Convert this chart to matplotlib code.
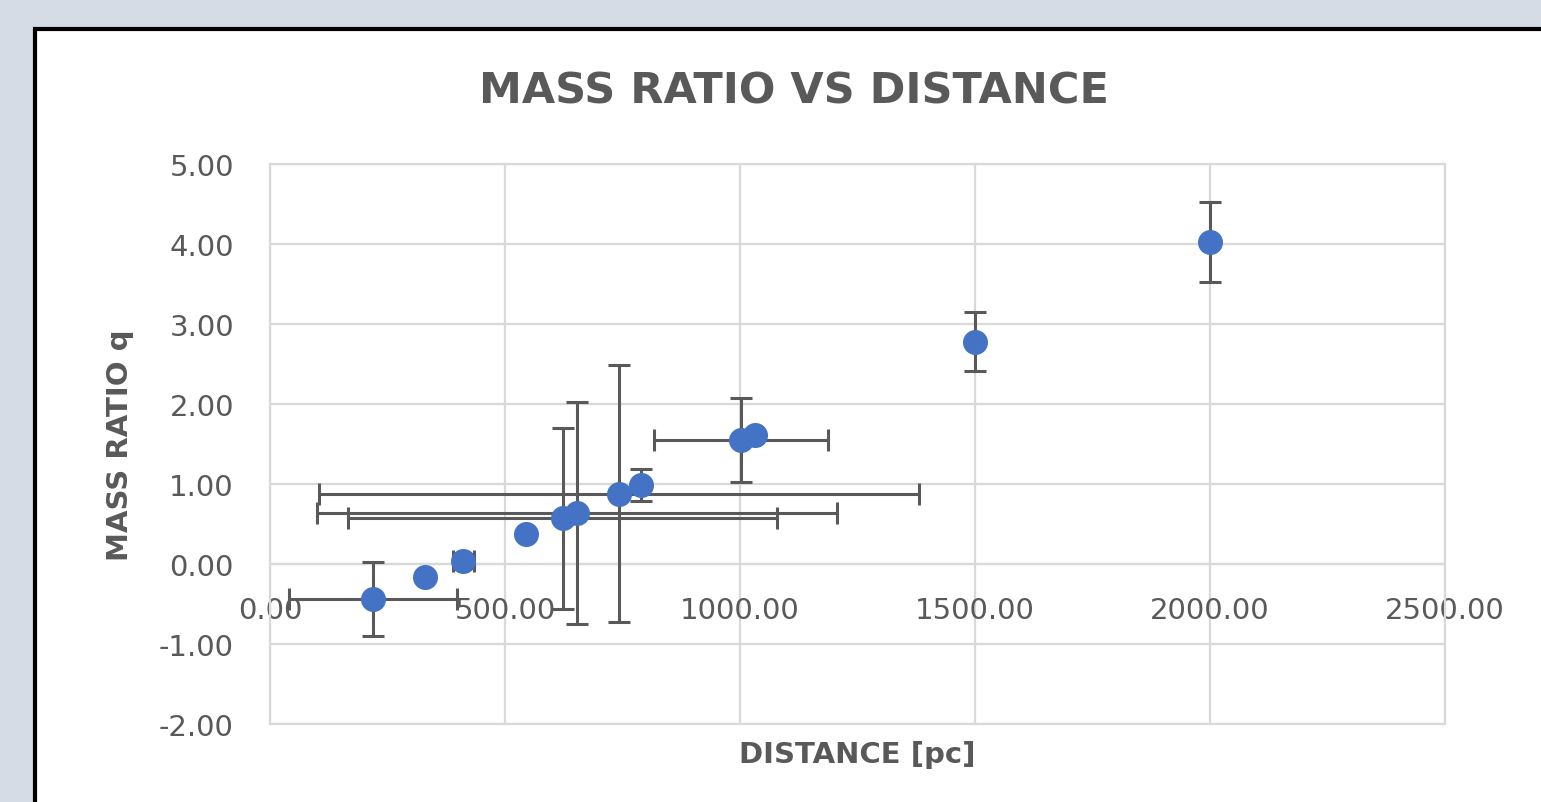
import matplotlib.pyplot as plt
from matplotlib.patches import Rectangle

# values
distance = [219, 330, 411, 545, 623, 653, 743, 789, 1002, 1032, 1500, 2000]
mass_ratio = [-0.44, -0.16, 0.04, 0.37, 0.57, 0.64, 0.88, 0.99, 1.55, 1.61, 2.78, 4.03]
mass_ratio_err = [0.46, 0.0, 0.09, 0.0, 1.13, 1.39, 1.61, 0.20, 0.53, 0.0, 0.37, 0.50]
distance_err = [178, 0, 22, 0, 456, 553, 638, 0, 186, 0, 0, 0]

x_ticks = [0, 500, 1000, 1500, 2000, 2500]
y_ticks = [-2, -1, 0, 1, 2, 3, 4, 5]

text_grey = '#595959'
grid_grey = '#D9D9D9'
blue = '#4472C4'

plt.rcParams['font.family'] = ['DejaVu Sans']

fig = plt.figure(figsize=(15.41, 8.03), dpi=100)
fig.patch.set_facecolor('#D6DCE5')

# white chart box with black frame, running off the right and bottom edges
box = Rectangle((35 / 1541, -0.1), 1.2, 0.1 + 1 - 30 / 803, transform=fig.transFigure,
                facecolor='white', edgecolor='black', linewidth=3, zorder=-5)
fig.patches.append(box)

ax = fig.add_axes([270 / 1541, 1 - 725 / 803, 1175 / 1541, 560 / 803])
ax.set_zorder(1)
ax.set_facecolor('none')
ax.set_xlim(0, 2500)
ax.set_ylim(-2, 5)
ax.set_xticks(x_ticks)
ax.set_yticks(y_ticks)
ax.set_xticklabels(['%.2f' % v for v in x_ticks])
ax.set_yticklabels(['%.2f' % v for v in y_ticks])

ax.grid(True, color=grid_grey, linewidth=1.6, zorder=0)
ax.set_axisbelow(True)
for side in ['left', 'right', 'top', 'bottom']:
	ax.spines[side].set_color(grid_grey)
	ax.spines[side].set_linewidth(1.6)
ax.spines['bottom'].set_position(('data', 0))
ax.axhline(-2, color=grid_grey, linewidth=1.6, clip_on=False, zorder=0)

ax.tick_params(axis='x', length=0, pad=23, labelsize=21, labelcolor=text_grey)
ax.tick_params(axis='y', length=0, pad=26, labelsize=21, labelcolor=text_grey)

ax.errorbar(distance, mass_ratio, yerr=mass_ratio_err, xerr=distance_err,
            fmt='o', color=blue, markersize=17, markeredgecolor=blue,
            ecolor='#595959', elinewidth=2.2, capsize=8, capthick=2.2, zorder=3)

fig.text(794 / 1541, 1 - 92 / 803, 'MASS RATIO VS DISTANCE', ha='center', va='center',
         fontsize=31, fontweight='bold', color=text_grey)
fig.text(857 / 1541, 1 - 755 / 803, 'DISTANCE [pc]', ha='center', va='center',
         fontsize=21, fontweight='bold', color=text_grey)
fig.text(120 / 1541, 1 - 445 / 803, 'MASS RATIO q', ha='center', va='center',
         rotation=90, fontsize=21, fontweight='bold', color=text_grey)

plt.savefig('out.png', dpi=100, facecolor=fig.get_facecolor())
